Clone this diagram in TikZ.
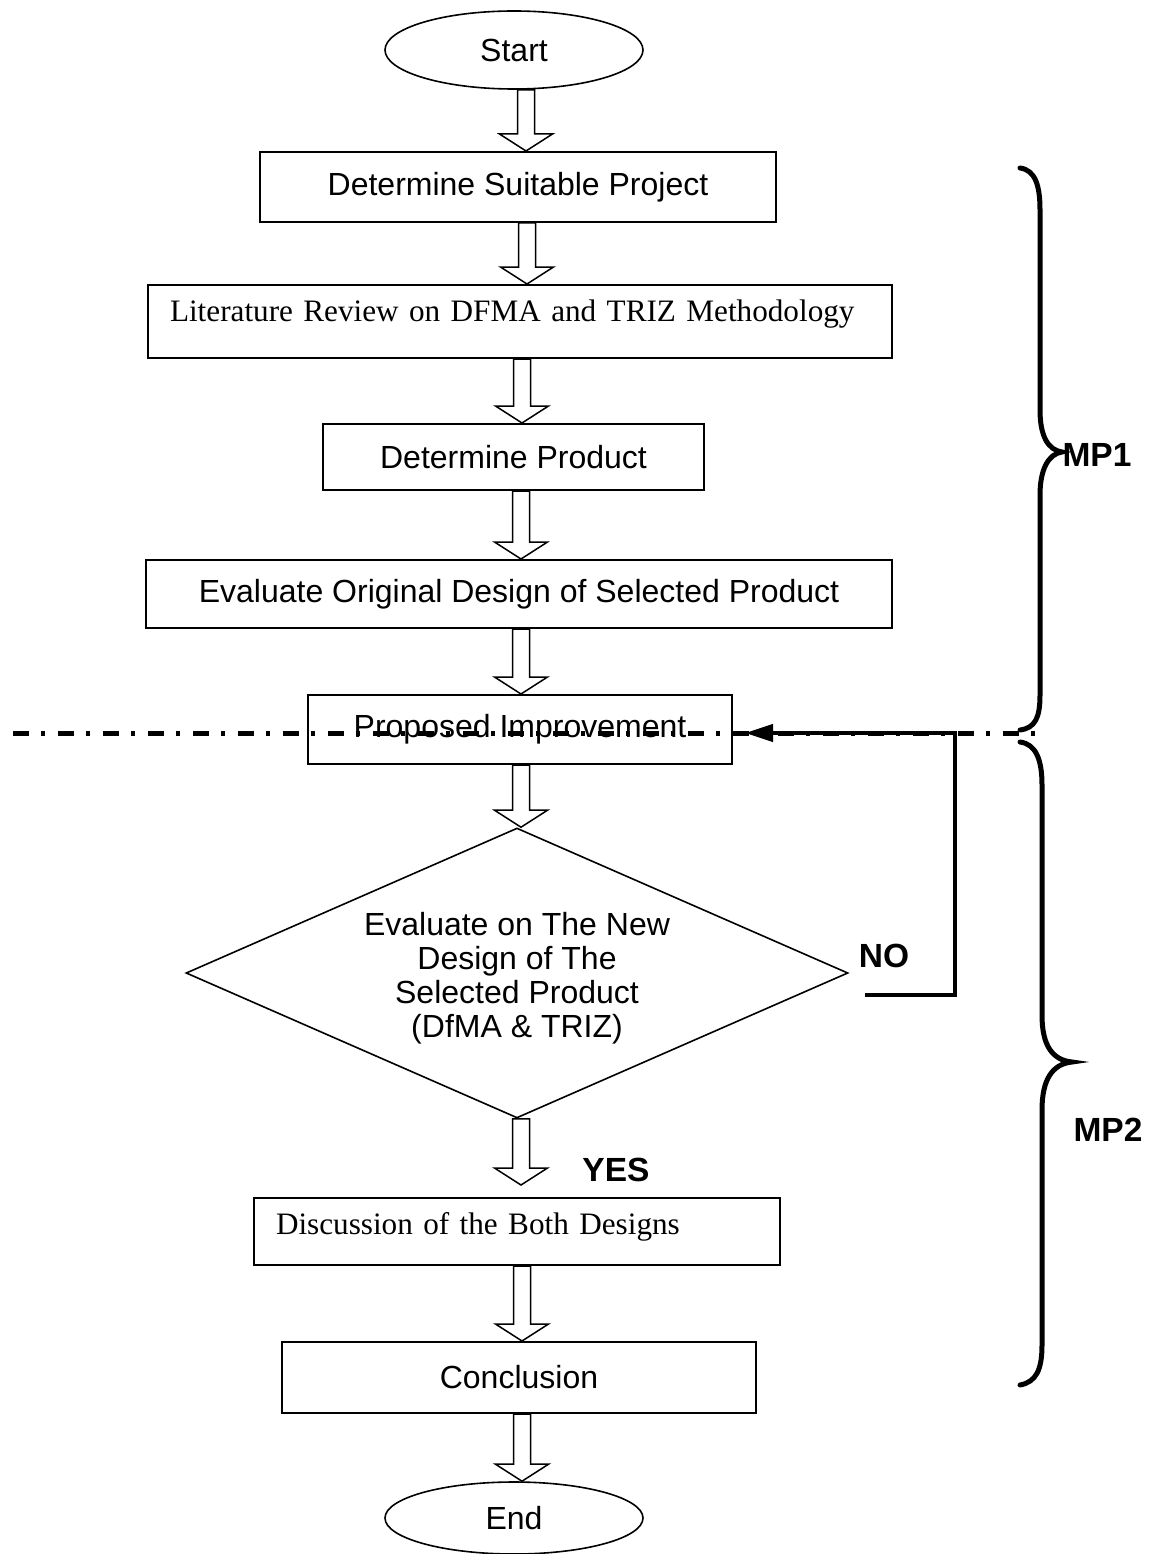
\documentclass[tikz,border=0pt]{standalone}
\usepackage{fontspec}
\setmainfont{Liberation Sans}
\newfontfamily\tnr{Liberation Serif}
\usetikzlibrary{shapes.geometric,arrows.meta,calc}

\tikzset{
 box/.style={draw, line width=2pt, rectangle, inner sep=0pt, font=\fontsize{32}{35}\selectfont},
 serifbox/.style={box, font=\tnr\fontsize{31.2}{35}\selectfont, align=left, inner xsep=22pt},
 term/.style={draw, line width=1.6pt, ellipse, inner sep=0pt, minimum width=258pt, font=\fontsize{32}{35}\selectfont},
 decision/.style={draw, line width=1.6pt, diamond, inner sep=0pt, aspect=2.28, minimum width=662pt, minimum height=290pt},
 dtext/.style={align=center, font=\fontsize{32}{34}\selectfont, yshift=-5pt},
 barrowst/.style={draw, line width=1.5pt, line join=miter},
 lbl/.style={font=\bfseries\fontsize{33.5}{36}\selectfont},
 brace/.style={line width=5pt, line cap=round},
 sepline/.style={line width=5pt, dash pattern=on 16pt off 12pt on 4pt off 13pt},
 noline/.style={line width=4pt, -{Triangle[length=28pt,width=17pt]}},
}

\newcommand{\barrow}[4]{%
 \draw[barrowst] let \p1=(#1), \p2=(#2) in
 ({#3pt-8.5pt},\y1) -- ({#3pt+8.5pt},\y1) -- ({#3pt+8.5pt},{\y2+#4pt+17pt})
 -- ({#3pt+26.5pt},{\y2+#4pt+17pt}) -- (#3pt,{\y2+#4pt})
 -- ({#3pt-26.5pt},{\y2+#4pt+17pt}) -- ({#3pt-8.5pt},{\y2+#4pt+17pt}) -- cycle;}

\begin{document}
\begin{tikzpicture}[x=1pt,y=-1pt]
\useasboundingbox[fill=white] (0,0) rectangle (1150,1554);

% nodes
\node[term, minimum height=78pt] (start) at (514,50) {Start};
\node[box, minimum width=516pt, minimum height=70pt] (s1) at (518,187) {Determine Suitable Project};
\node[serifbox, text width=700pt, minimum width=744pt, minimum height=73pt] (s2) at (520,321.5)
  {\raisebox{7pt}[\height][\depth]{Literature Review on DFMA and TRIZ Methodology}};
\node[box, minimum width=381pt, minimum height=66pt] (s3) at (513.5,457) {Determine Product};
\node[box, minimum width=746pt, minimum height=68pt] (s4) at (519,594) {Evaluate Original Design of Selected Product};
\node[box, minimum width=424pt, minimum height=69pt] (s5) at (520,729.5) {Proposed Improvement};
\node[decision, label={[dtext]center:{Evaluate on The New\\Design of The\\Selected Product\\(DfMA \& TRIZ)}}] (dia) at (517,973) {};
\node[serifbox, text width=482pt, minimum width=526pt, minimum height=67pt] (s7) at (517,1231.5)
  {\raisebox{5pt}[\height][\depth]{Discussion of the Both Designs}};
\node[box, minimum width=474pt, minimum height=71pt] (s8) at (519,1377.5) {Conclusion};
\node[term, minimum height=72pt] (end) at (514,1518) {End};

% block arrows
\barrow{start.south}{s1.north}{526}{0}
\barrow{s1.south}{s2.north}{527}{0}
\barrow{s2.south}{s3.north}{522}{0}
\barrow{s3.south}{s4.north}{521}{0}
\barrow{s4.south}{s5.north}{521}{0}
\barrow{s5.south}{dia.north}{521}{0}
\barrow{dia.south}{s7.north}{521}{12}
\barrow{s7.south}{s8.north}{522}{0}
\barrow{s8.south}{end.north}{522}{0}

% separator line
\coordinate (sepL) at (13,733);
\coordinate (sepR) at (1035,733);
\draw[sepline] (sepL) -- (sepR);

% NO feedback
\coordinate (nostart) at (865,995);
\coordinate (nocorner) at (955,995);
\coordinate (notip) at (745,733);
\draw[noline] (nostart) -- (nocorner) |- (notip);
\node[lbl] (no) at (884,956) {NO};
\node[lbl] (yes) at (616,1170) {YES};

% braces
\draw[brace] (1020,168) .. controls (1035,170) and (1040,185) .. (1040,210) -- (1040,410)
  .. controls (1040,436) and (1048,450) .. (1062,452)
  .. controls (1048,454) and (1040,470) .. (1040,495) -- (1040,695)
  .. controls (1040,718) and (1035,728) .. (1020,730);
\node[lbl] (mp1) at (1097,455) {MP1};

\draw[brace] (1020,742) .. controls (1036,744) and (1042,760) .. (1042,785) -- (1042,1015)
  .. controls (1042,1045) and (1052,1060) .. (1072,1062)
  .. controls (1052,1064) and (1042,1080) .. (1042,1110) -- (1042,1345)
  .. controls (1042,1370) and (1036,1382) .. (1020,1385);
\node[lbl] (mp2) at (1108,1130) {MP2};
\end{tikzpicture}
\end{document}
